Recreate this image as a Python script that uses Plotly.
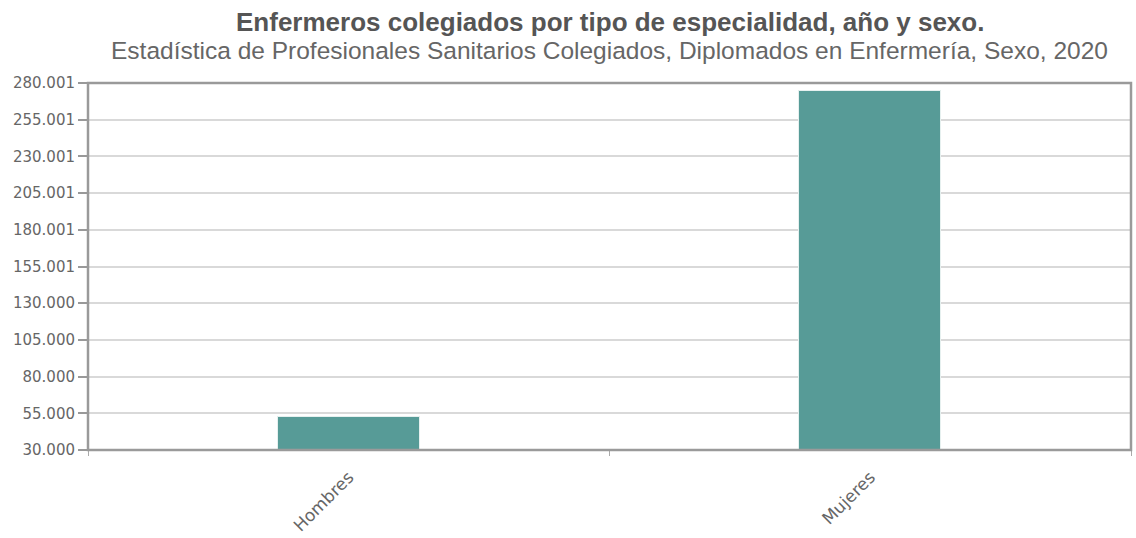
import plotly.graph_objects as go

categories = ["Hombres", "Mujeres"]
values = [52400, 274300]
tick_values = [30000, 55000.1, 80000.2, 105000.3, 130000.4, 155000.5, 180000.6, 205000.7, 230000.8, 255000.9, 280001]
tick_labels = ["30.000", "55.000", "80.000", "105.000", "130.000", "155.001", "180.001", "205.001", "230.001", "255.001", "280.001"]
title_text = "Enfermeros colegiados por tipo de especialidad, año y sexo."
subtitle_text = "Estadística de Profesionales Sanitarios Colegiados, Diplomados en Enfermería, Sexo, 2020"

bar_color = "#579b97"
tick_font = dict(family="DejaVu Sans", size=15, color="#666666")
cat_font = dict(family="DejaVu Sans", size=17, color="#666666")

fig = go.Figure()
fig.add_trace(go.Bar(
    x=categories, y=values, width=0.272,
    marker=dict(color=bar_color, line=dict(color="#e6f0ef", width=1)),
    hoverinfo="x+y",
))

fig.update_layout(
    width=1136, height=538,
    margin=dict(l=88, r=5, t=83, b=88),
    paper_bgcolor="white", plot_bgcolor="white",
    showlegend=False,
    bargap=0,
    xaxis=dict(
        type="category", tickangle=-45, tickfont=cat_font,
        showgrid=False, zeroline=False, showline=False,
        ticks="outside", tickson="boundaries", ticklen=5, tickcolor="#aaaaaa",
        range=[-0.5, 1.5], ticklabelstandoff=13, automargin=False,
    ),
    yaxis=dict(
        range=[30000, 280001], tickvals=tick_values, ticktext=tick_labels,
        tickfont=tick_font, showgrid=True, gridcolor="#d9d9d9", gridwidth=1.5,
        zeroline=False, showline=False, ticks="outside", ticklen=9,
        tickcolor="#999999", tickwidth=1.5, automargin=False,
    ),
    annotations=[
        dict(text="<b>" + title_text + "</b>", xref="paper", yref="paper",
             x=0.5, y=1.166, xanchor="center", yanchor="middle", showarrow=False,
             font=dict(family="Liberation Sans", size=26, color="#555555")),
        dict(text=subtitle_text, xref="paper", yref="paper",
             x=0.5, y=1.088, xanchor="center", yanchor="middle", showarrow=False,
             font=dict(family="Liberation Sans", size=24.5, color="#666666")),
    ],
    shapes=[
        dict(type="rect", xref="paper", yref="paper", x0=0, x1=1, y0=0, y1=1,
             line=dict(color="#9a9a9a", width=2.5), layer="above"),
    ],
)

fig.write_html("out.html")
